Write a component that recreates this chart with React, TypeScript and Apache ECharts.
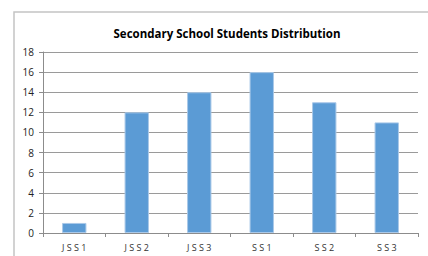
import React, { useEffect, useRef } from "react";
import * as echarts from "echarts";

const categories = ["JSS1", "JSS2", "JSS3", "SS1", "SS2", "SS3"];
const students = [1, 12, 14, 16, 13, 11];
const titleText = "Secondary School Students Distribution";

export default function App() {
  const ref = useRef<HTMLDivElement>(null);
  useEffect(() => {
    if (!ref.current) return;
    const chart = echarts.init(ref.current, null, { renderer: "svg" });
    chart.setOption({
      animation: false,
      backgroundColor: "#ffffff",
      title: {
        text: titleText,
        left: 222,
        top: 22,
        textAlign: "center",
        textStyle: { fontFamily: "Open Sans", fontWeight: "bold", fontSize: 11.5, color: "#000" },
      },
      graphic: [
        {
          type: "rect",
          shape: { x: 14, y: 12, width: 430, height: 260 },
          style: { fill: "none", stroke: "#c4c4c4", lineWidth: 1.5 },
          silent: true,
          z: -10,
        },
      ],
      grid: { left: 43, right: 10, top: 52, bottom: 23 },
      xAxis: {
        type: "category",
        data: categories,
        axisLine: { lineStyle: { color: "#8c8c8c", width: 1 } },
        axisTick: { show: true, length: 4, lineStyle: { color: "#8c8c8c" } },
        axisLabel: {
          fontFamily: "Open Sans",
          fontSize: 9,
          color: "#333",
          margin: 10,
          formatter: (v: string) => v.split("").join(" "),
        },
      },
      yAxis: {
        type: "value",
        min: 0,
        max: 18,
        interval: 2,
        axisLine: { show: true, lineStyle: { color: "#8c8c8c", width: 1 } },
        axisTick: { show: true, length: 4, lineStyle: { color: "#8c8c8c" } },
        axisLabel: { fontFamily: "Open Sans", fontSize: 10, color: "#222", margin: 9 },
        splitLine: { lineStyle: { color: "#9a9a9a", width: 1 } },
      },
      series: [
        {
          type: "bar",
          data: students,
          barWidth: "39%",
          itemStyle: { color: "#5b9bd5", borderColor: "#a9c8e8", borderWidth: 1 },
        },
      ],
    });
    return () => chart.dispose();
  }, []);
  return (
    <div
      ref={ref}
      style={{ position: "fixed", left: 0, top: 0, width: 428, height: 256 }}
    />
  );
}
